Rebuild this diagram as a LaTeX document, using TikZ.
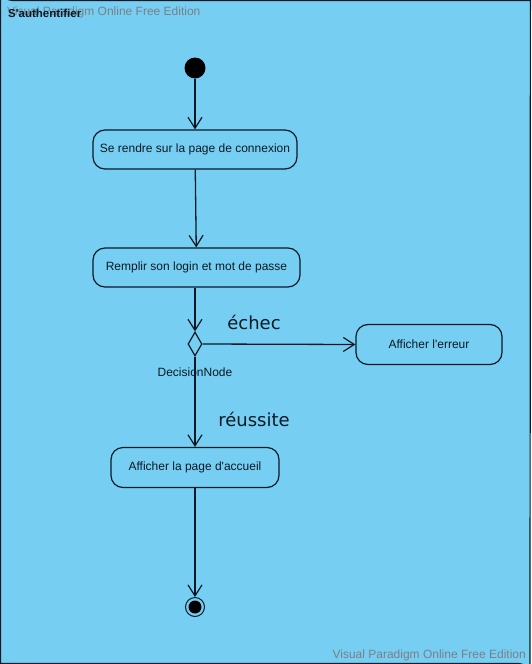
\documentclass[tikz,border=0pt]{standalone}
\usepackage{fontspec}
\setmainfont{Liberation Sans}
\newfontfamily\vpfont{Liberation Sans}
\newfontfamily\lblfont{DejaVu Sans}
\usetikzlibrary{arrows.meta,shapes.geometric}
\definecolor{bgblue}{HTML}{77CEF3}
\definecolor{inkc}{HTML}{0A1A24}
\definecolor{wmgray}{HTML}{7A7F85}
\begin{document}
\begin{tikzpicture}[x=1pt,y=-1pt,
  act/.style={draw=inkc,line width=1.2pt,rounded corners=12pt,minimum height=39pt,inner sep=0pt,font=\vpfont\fontsize{12}{14}\selectfont,text=inkc},
  flow/.style={draw=inkc,line width=1.3pt,-{Straight Barb[length=11pt,width=14pt,line width=1.2pt]}},
  guard/.style={font=\lblfont\fontsize{18}{21}\selectfont,text=inkc},
  wm/.style={font=\vpfont\fontsize{12}{14}\selectfont,text=wmgray,inner sep=0pt}]
\useasboundingbox (0,0) rectangle (531,664);
\draw[fill=bgblue,draw=inkc,line width=1.2pt]
  (0.6,13) -- (0.6,663.4) -- (518,663.4)
  arc[start angle=-90,end angle=0,radius=12] -- (530.4,0.6) -- (13,0.6) arc[start angle=90,end angle=180,radius=12.4] -- cycle;
\node[wm,anchor=west] (wm1) at (7,12) {Visual Paradigm Online Free Edition};
\node[wm,anchor=east] (wm2) at (526,655) {Visual Paradigm Online Free Edition};
\node[anchor=west,font=\vpfont\bfseries\fontsize{11.5}{13}\selectfont,text=inkc,inner sep=0pt] (title) at (8,13) {S'authentifier};

\node[circle,fill=black,minimum size=21pt,inner sep=0pt] (init) at (195,68) {};
\node[act,minimum width=204pt] (a1) at (195,149.5) {Se rendre sur la page de connexion};
\node[act,minimum width=207pt] (a2) at (196.5,267.5) {Remplir son login et mot de passe};
\node[diamond,draw=inkc,line width=1.2pt,minimum width=14pt,minimum height=24pt,inner sep=0pt] (dec) at (195,344) {};
\node[font=\vpfont\fontsize{12}{14}\selectfont,text=inkc,inner sep=0pt] (declbl) at (195,372) {DecisionNode};
\node[act,minimum width=146pt,minimum height=40pt] (a3) at (429,344.5) {Afficher l'erreur};
\node[act,minimum width=168pt,minimum height=40pt] (a4) at (195,467.5) {Afficher la page d'accueil};
\node[circle,draw=inkc,line width=1pt,minimum size=19pt,inner sep=0pt] (fin) at (195,607) {};
\node[circle,fill=black,minimum size=13pt,inner sep=0pt] (finin) at (fin.center) {};

\draw[flow] (init) -- (a1);
\draw[flow] (a1) -- (a2);
\draw[flow] (a2.south -| dec) -- (dec.north);
\draw[flow] (dec.east) -- (a3.west);
\draw[flow] (dec.south) -- (a4.north);
\draw[flow] (a4) -- (fin);

\node[guard] (g1) at (254,322) {échec};
\node[guard] (g2) at (254,419) {réussite};
\end{tikzpicture}
\end{document}
